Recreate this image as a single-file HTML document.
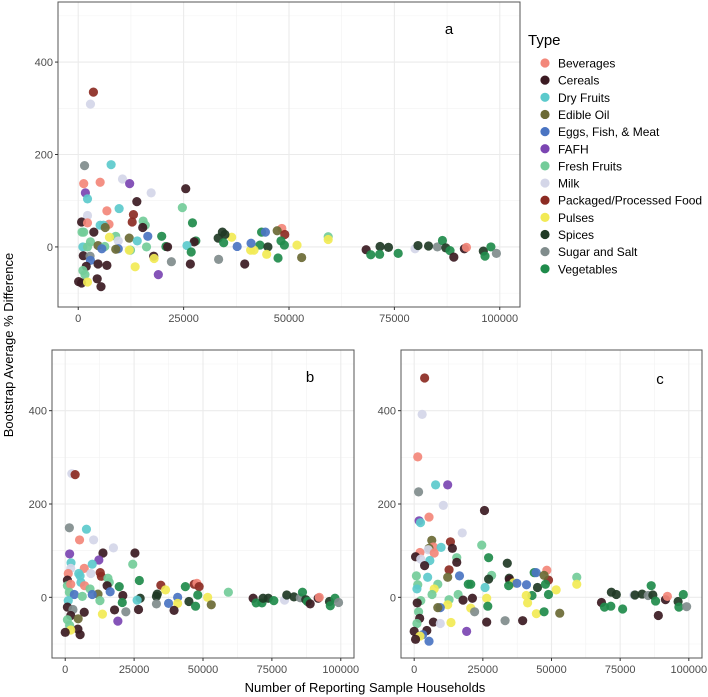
<!DOCTYPE html>
<html><head><meta charset="utf-8"><style>
html,body{margin:0;padding:0;background:#fff;}
svg{display:block;font-family:"Liberation Sans",sans-serif;}
</style></head><body>
<svg id="chart" width="708" height="697"></svg>
<script>
const types=["Beverages","Cereals","Dry Fruits","Edible Oil","Eggs, Fish, & Meat","FAFH","Fresh Fruits","Milk","Packaged/Processed Food","Pulses","Spices","Sugar and Salt","Vegetables"];
const typeKeys=["Bev","Cer","Dry","Oil","Egg","FAFH","Fru","Milk","Pack","Pul","Spi","Sug","Veg"];
const colors=["#f3877a","#3b1a22","#5ccacc","#6b6a35","#4a74c2","#7b45b2","#73cc99","#d4d6e8","#8c2b23","#f2ea55","#203a25","#808c8c","#1f8b4b"];
const xTicks=[0,25000,50000,75000,100000];
const yTicks=[0,200,400];
// panel a: [x thousand, y, type]
const panelA=[[3.6,335,"Pack"],[2.9,309,"Milk"],[1.5,176,"Sug"],[7.8,178,"Dry"],[10.5,147,"Milk"],[1.3,137,"Bev"],[5.2,140,"Bev"],[12.2,137,"FAFH"],[1.7,117,"FAFH"],[25.5,126,"Cer"],[17.3,117,"Milk"],[2.2,104,"Dry"],[13.9,98,"Cer"],[24.7,85,"Fru"],[9.7,83,"Dry"],[6.8,78,"Bev"],[2.2,68,"Milk"],[13.1,70,"Pack"],[0.8,54,"Cer"],[2.2,52,"Bev"],[12.8,54,"Pack"],[15.4,56,"Fru"],[15.9,47,"Fru"],[7.3,49,"Bev"],[5.2,47,"Dry"],[6.0,47,"Dry"],[27.1,52,"Veg"],[0.9,32,"Fru"],[1.3,32,"Fru"],[3.7,32,"Cer"],[6.4,42,"Oil"],[15.3,42,"Cer"],[48.3,40,"Bev"],[47.2,35,"Oil"],[49.0,27,"Pack"],[19.8,23,"Veg"],[16.5,23,"Egg"],[8.9,23,"Fru"],[7.4,21,"Pul"],[36.4,21,"Pul"],[34.2,32,"Spi"],[34.8,27,"Spi"],[43.5,32,"Veg"],[44.4,32,"Egg"],[59.3,22,"Fru"],[59.3,16,"Pul"],[12.1,19,"Oil"],[2.9,11,"Fru"],[27.9,13,"Veg"],[27.5,11,"Cer"],[33.2,19,"Spi"],[34.5,9,"Veg"],[14.0,13,"Dry"],[9.5,13,"Milk"],[4.7,3,"Oil"],[1.1,0,"Dry"],[2.2,0,"Fru"],[6.3,1,"Fru"],[5.6,-4,"Egg"],[9.5,-4,"Egg"],[8.9,-5,"Oil"],[12.4,-7,"Fru"],[12.1,-7,"Pul"],[16.2,0,"Fru"],[20.8,1,"Veg"],[21.2,0,"Cer"],[25.8,3,"Dry"],[26.8,-11,"Veg"],[37.7,1,"Egg"],[43.1,4,"Veg"],[45.0,0,"Spi"],[40.9,-7,"Pul"],[41.7,-7,"Pul"],[44.7,-16,"Pul"],[48.9,4,"Veg"],[48.1,13,"Veg"],[51.9,4,"Pul"],[41.0,8,"Egg"],[1.2,-19,"Cer"],[2.8,-20,"Sug"],[2.9,-29,"Egg"],[1.9,-42,"Cer"],[4.7,-37,"Cer"],[6.8,-40,"Cer"],[17.9,-20,"Cer"],[18.0,-25,"Pul"],[22.1,-32,"Sug"],[13.5,-43,"Pul"],[26.6,-37,"Cer"],[33.3,-27,"Sug"],[39.5,-37,"Cer"],[47.4,-24,"Veg"],[53.0,-23,"Oil"],[19.0,-60,"FAFH"],[1.1,-51,"Fru"],[1.6,-60,"Fru"],[4.5,-69,"Cer"],[0.1,-75,"Cer"],[0.8,-78,"Cer"],[2.2,-76,"Pul"],[5.4,-86,"Cer"],[68.3,-6,"Cer"],[69.4,-17,"Veg"],[71.6,1,"Spi"],[71.5,-16,"Veg"],[73.6,-1,"Spi"],[75.9,-14,"Veg"],[79.9,-4,"Milk"],[80.6,3,"Spi"],[83.1,2,"Spi"],[85.2,0,"Sug"],[86.4,14,"Veg"],[87.2,-2,"Spi"],[88.2,-8,"Veg"],[89.1,-22,"Cer"],[91.6,-4,"Cer"],[92.1,-1,"Bev"],[96.1,-9,"Spi"],[96.5,-20,"Veg"],[97.9,0,"Veg"],[99.2,-14,"Sug"]];
const panelB=[[2.4,265,"Milk"],[3.6,263,"Pack"],[1.5,149,"Sug"],[7.7,146,"Dry"],[5.2,123,"Bev"],[10.3,123,"Milk"],[17.5,106,"Milk"],[1.6,93,"FAFH"],[13.7,95,"Cer"],[25.3,95,"Cer"],[2.1,74,"Dry"],[12.2,80,"FAFH"],[24.5,71,"Fru"],[9.8,71,"Dry"],[6.9,62,"Bev"],[2.0,62,"Milk"],[1.1,51,"Bev"],[12.7,53,"Pack"],[13.1,45,"Pack"],[4.9,51,"Dry"],[5.4,46,"Dry"],[9.3,51,"Milk"],[0.8,37,"Cer"],[0.8,25,"Fru"],[2.0,28,"Bev"],[15.5,41,"Fru"],[16.0,32,"Fru"],[5.7,32,"Dry"],[26.9,36,"Veg"],[34.7,26,"Pack"],[19.6,23,"Veg"],[15.2,25,"Cer"],[7.0,25,"Bev"],[59.2,11,"Fru"],[46.8,28,"Pack"],[47.8,30,"Bev"],[48.6,23,"Pack"],[43.6,23,"Veg"],[36.4,16,"Pul"],[9.0,18,"Fru"],[16.3,12,"Egg"],[1.5,11,"Fru"],[3.3,6,"Egg"],[11.9,7,"Oil"],[20.9,4,"Cer"],[33.4,7,"Spi"],[33.1,2,"Spi"],[48.1,5,"Veg"],[27.2,-2,"Spi"],[40.8,0,"Egg"],[51.7,0,"Pul"],[26.1,-6,"Dry"],[9.8,6,"Egg"],[6.2,2,"Fru"],[1.1,-7,"Dry"],[12.6,-7,"Fru"],[20.7,-11,"Veg"],[37.5,-13,"Egg"],[33.1,-14,"Sug"],[40.8,-13,"Pul"],[44.9,-9,"Spi"],[53.0,-16,"Oil"],[47.3,-19,"Veg"],[0.8,-21,"Cer"],[2.8,-26,"Sug"],[6.9,-32,"Cer"],[17.9,-27,"Cer"],[26.6,-26,"Cer"],[22.0,-31,"Sug"],[39.5,-28,"Cer"],[13.5,-36,"Pul"],[2.0,-39,"Cer"],[4.7,-46,"Oil"],[19.1,-51,"FAFH"],[0.8,-48,"Fru"],[1.6,-60,"Fru"],[4.6,-68,"Cer"],[2.0,-70,"Pul"],[0,-75,"Cer"],[5.4,-80,"Cer"],[68.2,-2,"Cer"],[69.3,-12,"Veg"],[71.4,-12,"Veg"],[71.8,-2,"Spi"],[73.7,-2,"Spi"],[75.7,-7,"Veg"],[79.6,-6,"Milk"],[80.4,5,"Spi"],[83.0,1,"Spi"],[85.3,-1,"Sug"],[86.1,11,"Veg"],[87.3,-5,"Spi"],[87.9,-9,"Veg"],[88.9,-14,"Cer"],[91.8,-2,"Cer"],[92.2,0,"Bev"],[95.9,-9,"Spi"],[96.2,-18,"Veg"],[97.9,-2,"Veg"],[99.2,-11,"Sug"]];
const panelC=[[3.8,470,"Pack"],[2.9,392,"Milk"],[1.3,301,"Bev"],[1.6,226,"Sug"],[7.8,241,"Dry"],[12.2,241,"FAFH"],[10.6,197,"Milk"],[25.6,186,"Cer"],[5.4,172,"Bev"],[1.8,164,"FAFH"],[2.3,160,"Dry"],[17.5,138,"Milk"],[6.4,122,"Oil"],[13.2,119,"Pack"],[24.6,112,"Fru"],[7.0,108,"Bev"],[9.8,107,"Dry"],[13.9,105,"Cer"],[5.4,105,"Oil"],[5.1,102,"Milk"],[2.1,96,"Bev"],[7.3,95,"Bev"],[15.5,85,"Fru"],[27.1,85,"Veg"],[0.5,87,"Cer"],[2.4,82,"Milk"],[5.7,79,"Dry"],[15.5,75,"Cer"],[3.8,68,"Cer"],[12.7,59,"Pack"],[33.9,73,"Spi"],[48.3,58,"Bev"],[43.7,53,"Veg"],[44.4,53,"Egg"],[48.9,37,"Pack"],[47.3,47,"Oil"],[0.8,46,"Fru"],[4.9,43,"Dry"],[12.2,43,"Oil"],[16.5,46,"Egg"],[28.2,47,"Fru"],[59.2,43,"Fru"],[27.1,39,"Spi"],[34.6,41,"Spi"],[34.7,38,"Cer"],[36.2,31,"Pul"],[37.4,30,"Egg"],[40.9,27,"Egg"],[59.2,28,"Pul"],[20.6,28,"Veg"],[19.7,28,"Veg"],[8.6,28,"Fru"],[1.3,27,"Fru"],[34.4,25,"Veg"],[44.9,21,"Spi"],[7.3,18,"Pul"],[47.8,28,"Veg"],[51.7,16,"Pul"],[25.8,21,"Dry"],[1.0,18,"Dry"],[16.0,6,"Fru"],[48.9,6,"Veg"],[42.9,4,"Veg"],[40.8,4,"Pul"],[6.5,6,"Fru"],[26.4,-2,"Pul"],[12.7,-5,"Fru"],[21.2,-2,"Cer"],[17.8,-6,"Cer"],[2.4,-7,"Fru"],[1.1,-12,"Cer"],[12.2,-16,"Pul"],[9.5,-22,"Egg"],[8.6,-22,"Oil"],[26.8,-19,"Veg"],[20.6,-23,"Pul"],[22.0,-31,"Sug"],[41.3,-12,"Pul"],[44.5,-35,"Pul"],[47.3,-31,"Veg"],[53.0,-34,"Oil"],[1.6,-31,"Fru"],[2.0,-45,"Cer"],[39.5,-50,"Cer"],[33.1,-50,"Sug"],[26.4,-53,"Cer"],[7.0,-53,"Cer"],[13.4,-54,"Pul"],[9.5,-56,"Milk"],[1.0,-56,"Fru"],[0,-73,"Cer"],[4.6,-71,"Cer"],[19.1,-73,"FAFH"],[3.1,-80,"Egg"],[2.1,-83,"Pul"],[0.5,-90,"Cer"],[5.4,-94,"Egg"],[68.2,-11,"Cer"],[69.3,-21,"Veg"],[71.6,-19,"Veg"],[71.8,11,"Spi"],[73.6,6,"Spi"],[75.9,-25,"Veg"],[80.0,5,"Milk"],[80.4,5,"Spi"],[83.0,7,"Spi"],[85.2,4,"Sug"],[86.3,25,"Veg"],[86.9,5,"Spi"],[87.9,-8,"Veg"],[88.9,-39,"Cer"],[91.5,-5,"Cer"],[92.2,2,"Bev"],[96.1,-9,"Spi"],[96.4,-21,"Veg"],[98.0,6,"Veg"],[99.2,-20,"Sug"]];

const NS="http://www.w3.org/2000/svg";
const svg=document.getElementById("chart");
function mk(tag,attrs,parent){const e=document.createElementNS(NS,tag);for(const k in attrs)e.setAttribute(k,attrs[k]);(parent||svg).appendChild(e);return e;}
const XMIN=-4800,XMAX=104800,YMIN=-130,YMAX=530;

function panel(name,data,box,label,labelPos){
  const g=mk("g",{});
  
  
  const xs=v=>box.x+(v-XMIN)/(XMAX-XMIN)*box.w;
  const ys=v=>box.y+box.h-(v-YMIN)/(YMAX-YMIN)*box.h;
  // grid
  for(let v=-100;v<=500;v+=200){mk("line",{x1:box.x,x2:box.x+box.w,y1:ys(v),y2:ys(v),stroke:"#f2f2f2","stroke-width":0.6},g);}
  for(let v=12500;v<=100000;v+=25000){mk("line",{x1:xs(v),x2:xs(v),y1:box.y,y2:box.y+box.h,stroke:"#f2f2f2","stroke-width":0.6},g);}
  yTicks.forEach(v=>{mk("line",{x1:box.x,x2:box.x+box.w,y1:ys(v),y2:ys(v),stroke:"#ebebeb","stroke-width":1.1},g);});
  xTicks.forEach(v=>{mk("line",{x1:xs(v),x2:xs(v),y1:box.y,y2:box.y+box.h,stroke:"#ebebeb","stroke-width":1.1},g);});
  // points
  data.forEach(d=>{
    const i=typeKeys.indexOf(d[2]);
    const c=mk("circle",{cx:xs(d[0]*1000),cy:ys(d[1]),r:4.6,fill:colors[i],"fill-opacity":0.92},g);
    
    
  });
  const fr=mk("rect",{x:box.x,y:box.y,width:box.w,height:box.h,fill:"none",stroke:"#555","stroke-width":1},g);
  
  
  // ticks
  yTicks.forEach(v=>{
    mk("line",{x1:box.x-3,x2:box.x,y1:ys(v),y2:ys(v),stroke:"#333"},g);
    const t=mk("text",{x:box.x-5,y:ys(v)+4,"text-anchor":"end","font-size":11,fill:"#4d4d4d"},g);
    t.textContent=v;
    
    
  });
  xTicks.forEach(v=>{
    mk("line",{x1:xs(v),x2:xs(v),y1:box.y+box.h,y2:box.y+box.h+3,stroke:"#333"},g);
    const t=mk("text",{x:xs(v),y:box.y+box.h+15,"text-anchor":"middle","font-size":11,fill:"#4d4d4d"},g);
    t.textContent=v;
    
    
  });
  const l=mk("text",{x:labelPos[0],y:labelPos[1],"font-size":15,fill:"#000","text-anchor":"middle"},g);
  l.textContent=label;
  
  
}
panel("a",panelA,{x:58,y:2,w:462,h:305},"a",[449,34]);
panel("b",panelB,{x:52,y:350,w:302,h:308},"b",[310,382]);
panel("c",panelC,{x:401,y:350,w:301,h:308},"c",[660,384]);

// legend
const lg=mk("g",{});


const lt=mk("text",{x:528,y:45,"font-size":15,fill:"#000"},lg);
lt.textContent="Type";


types.forEach((t,i)=>{
  const y=63+i*17.15;
  const e=mk("g",{},lg);
  
  
  mk("circle",{cx:545,cy:y,r:4.6,fill:colors[i]},e);
  const tx=mk("text",{x:558,y:y+4.5,"font-size":12,fill:"#000"},e);
  tx.textContent=t;
});
// axis titles
const xt=mk("text",{x:365,y:692,"text-anchor":"middle","font-size":13,fill:"#000"});
xt.textContent="Number of Reporting Sample Households";


const yt=mk("text",{x:0,y:0,"text-anchor":"middle","font-size":13,fill:"#000",transform:"translate(13,345) rotate(-90)"});
yt.textContent="Bootstrap Average % Difference";


</script>
</body></html>
